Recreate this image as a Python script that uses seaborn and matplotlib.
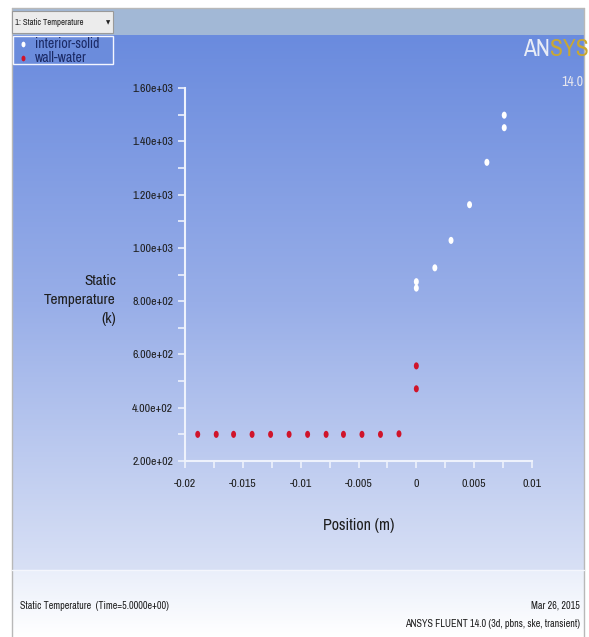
import numpy as np
import pandas as pd
import matplotlib
matplotlib.use("Agg")
import matplotlib.pyplot as plt
import matplotlib.path as mpath
from matplotlib.transforms import Affine2D
from matplotlib.patches import Rectangle
from matplotlib import font_manager as fm
import seaborn as sns

# data
interior_x = [0.0, 0.0, 0.0016, 0.0030, 0.0046, 0.0061, 0.0076, 0.0076]
interior_t = [849, 873, 925, 1028, 1162, 1321, 1451, 1498]
wall_x = [-0.0189, -0.0173, -0.0158, -0.0142, -0.0126, -0.0110, -0.0094,
          -0.0078, -0.0063, -0.0047, -0.0031, -0.0015, 0.0, 0.0]
wall_t = [300, 300, 300, 300, 300, 300, 300, 300, 300, 300, 300, 302, 471, 557]

x_ticks = [-0.02, -0.015, -0.01, -0.005, 0, 0.005, 0.01]
x_tick_labels = ["-0.02", "-0.015", "-0.01", "-0.005", "0", "0.005", "0.01"]
y_ticks = [200, 400, 600, 800, 1000, 1200, 1400, 1600]

zones = ["interior-solid", "wall-water"]

df = pd.concat([
    pd.DataFrame({"Position": interior_x, "Temperature": interior_t, "Zone": zones[0]}),
    pd.DataFrame({"Position": wall_x, "Temperature": wall_t, "Zone": zones[1]}),
])

sns.set_style("white")

# look for a narrow font like the Fluent GUI uses
narrow_fam = None
for f in fm.fontManager.ttflist:
    if "Narrow" in f.name:
        narrow_fam = f.name
        break
if narrow_fam:
    plt.rcParams["font.family"] = [narrow_fam, "DejaVu Sans"]
else:
    plt.rcParams["font.family"] = ["DejaVu Sans"]
    plt.rcParams["font.stretch"] = "condensed"
text_col = "#1e1e1e"

W, H = 589, 637
fig = plt.figure(figsize=(W / 100, H / 100), dpi=100)
fig.patch.set_facecolor("white")

# background in pixel coordinates
bg = fig.add_axes([0, 0, 1, 1], zorder=-5)
bg.set_xlim(0, W)
bg.set_ylim(H, 0)
bg.axis("off")

top_col = np.array([106, 139, 222]) / 255
mid_col = np.array([152, 174, 232]) / 255
bot_col = np.array([216, 224, 245]) / 255
n = 200
t = np.linspace(0, 1, n)[:, None]
grad = np.where(t < 0.5, top_col + (mid_col - top_col) * (t / 0.5),
                mid_col + (bot_col - mid_col) * ((t - 0.5) / 0.5))
bg.imshow(grad[:, None, :], extent=[12, 584, 570, 35], aspect="auto", zorder=0)

foot_top = np.array([234, 239, 250]) / 255
foot_bot = np.array([255, 255, 255]) / 255
tf = np.linspace(0, 1, 50)[:, None]
foot = foot_top + (foot_bot - foot_top) * tf
bg.imshow(foot[:, None, :], extent=[12, 584, 637, 570], aspect="auto", zorder=0)

# top bar and frame
bg.add_patch(Rectangle((12, 8), 572, 27, facecolor="#a2b8d6", edgecolor="none", zorder=1))
bg.plot([12, 584], [8, 8], color="#b8b8b8", lw=1, zorder=2)
bg.plot([12, 12], [8, 637], color="#b8b8b8", lw=1, zorder=2)
bg.plot([584, 584], [8, 637], color="#b8b8b8", lw=1, zorder=2)
bg.plot([12, 584], [570, 570], color="#f4f6fc", lw=1, zorder=2)

# dropdown box
bg.add_patch(Rectangle((12, 11), 101, 22, facecolor="#ececec", edgecolor="#9a9a9a", lw=0.8, zorder=3))
bg.text(15, 22.5, "1: Static Temperature", fontsize=6.2, color=text_col, va="center", ha="left", zorder=4)
bg.text(108, 22.5, "\u25BC", fontsize=4, color="#222222", va="center", ha="center",
        family=["DejaVu Sans"], zorder=4)

# legend frame
bg.add_patch(Rectangle((12.5, 36), 100.5, 28, facecolor="#6b8cdc", edgecolor="#f4f6ff", lw=1, zorder=3))

# ANSYS logo
bg.text(550, 50, "SYS", fontsize=17, color="#c9a832", ha="left", va="center", zorder=4)
bg.text(550, 50, "AN", fontsize=17, color="#e8ecf6", ha="right", va="center", zorder=4)
bg.text(583, 82, "14.0", fontsize=10, color="#e6e6ee", ha="right", va="center", zorder=4)

# footer texts
bg.text(20, 606, "Static Temperature  (Time=5.0000e+00)", fontsize=7.3, color=text_col, va="center", ha="left")
bg.text(580, 606, "Mar 26, 2015", fontsize=7.3, color=text_col, va="center", ha="right")
bg.text(580, 624, "ANSYS FLUENT 14.0 (3d, pbns, ske, transient)", fontsize=7.3, color=text_col,
        va="center", ha="right")

# main plot axes
ax = fig.add_axes([185 / W, 1 - 461 / H, 347 / W, 373 / H])
ax.patch.set_alpha(0)

oval = mpath.Path.unit_circle().transformed(Affine2D().scale(0.7, 1.0))
sns.scatterplot(data=df, x="Position", y="Temperature", hue="Zone", hue_order=zones,
                palette={"interior-solid": "white", "wall-water": "#d0142a"},
                marker=oval, s=26, linewidth=0, ax=ax, legend=True)

ax.set_xlim(-0.02, 0.01)
ax.set_ylim(200, 1600)
ax.set_xticks(x_ticks)
ax.set_xticklabels(x_tick_labels)
ax.set_xticks(np.arange(-0.0175, 0.01, 0.005), minor=True)
ax.set_yticks(y_ticks)
ax.set_yticklabels([f"{v:.2e}" for v in y_ticks])
ax.set_yticks(np.arange(300, 1600, 200), minor=True)

axis_col = "#eef2fc"
for side in ["top", "right"]:
    ax.spines[side].set_visible(False)
for side in ["left", "bottom"]:
    ax.spines[side].set_color(axis_col)
    ax.spines[side].set_linewidth(1.5)
ax.tick_params(which="both", direction="out", length=5, width=1.2, color=axis_col,
               labelsize=8.5, labelcolor=text_col, left=True, bottom=True)
ax.tick_params(axis="x", pad=8)
ax.set_xlabel("Position (m)", fontsize=11.5, color=text_col, labelpad=21)
ax.set_ylabel("")
fig.text(116 / W, 1 - 300 / H, "Static\nTemperature\n(k)", fontsize=11, color=text_col,
         ha="right", va="center", multialignment="right", linespacing=1.45)

sns.move_legend(ax, loc="upper left", bbox_to_anchor=(16 / W, 1 - 36 / H),
                bbox_transform=fig.transFigure, title=None, frameon=False,
                fontsize=10, handletextpad=0.5, borderpad=0.1, labelspacing=0.0,
                handlelength=0.8, borderaxespad=0, markerscale=0.8)
leg = ax.get_legend()
for txt in leg.get_texts():
    txt.set_color("#1b2a66")

fig.savefig("out.png", dpi=100)
